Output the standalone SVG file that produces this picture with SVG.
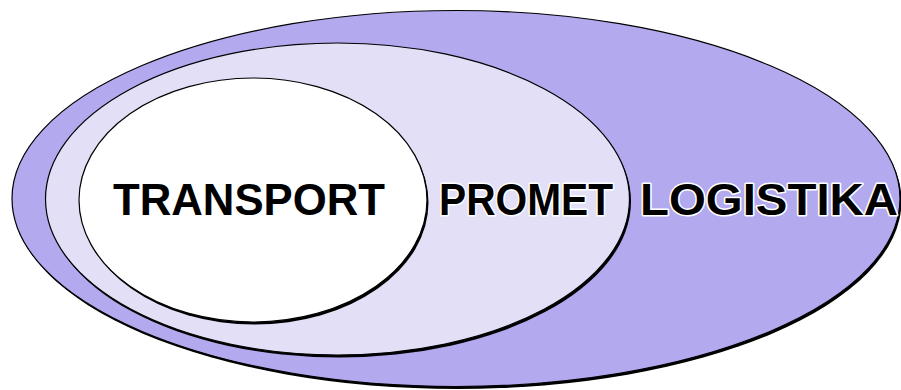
<svg xmlns="http://www.w3.org/2000/svg" width="901" height="390" viewBox="0 0 901 390">
<style>
.sh{fill:#000}
.el{stroke:#000;stroke-width:1.2}
.lbl{font-family:"Liberation Sans","DejaVu Sans",sans-serif;font-weight:bold;font-size:44px;fill:#000;stroke:#fff;stroke-width:3;paint-order:stroke;stroke-linejoin:round}
</style>
<rect width="901" height="390" fill="#fff"/>
<g id="logistika">
<ellipse class="sh" cx="457.5" cy="201" rx="444" ry="188"/>
<ellipse class="el" cx="456" cy="198.5" rx="444" ry="188" fill="#b2a9ef"/>
</g>
<g id="promet">
<ellipse class="sh" cx="339" cy="201.5" rx="292" ry="156"/>
<ellipse class="el" cx="337.5" cy="199" rx="292" ry="156" fill="#e2dff6"/>
</g>
<g id="transport">
<ellipse class="sh" cx="254.5" cy="202.5" rx="174" ry="122"/>
<ellipse class="el" cx="253" cy="200" rx="174" ry="122" fill="#fff"/>
</g>
<g id="labels">
<text class="lbl" x="113" y="215" textLength="272" lengthAdjust="spacingAndGlyphs">TRANSPORT</text>
<text class="lbl" x="439" y="215" textLength="174" lengthAdjust="spacingAndGlyphs">PROMET</text>
<text class="lbl" x="640" y="215" textLength="258" lengthAdjust="spacingAndGlyphs">LOGISTIKA</text>
</g>
</svg>
